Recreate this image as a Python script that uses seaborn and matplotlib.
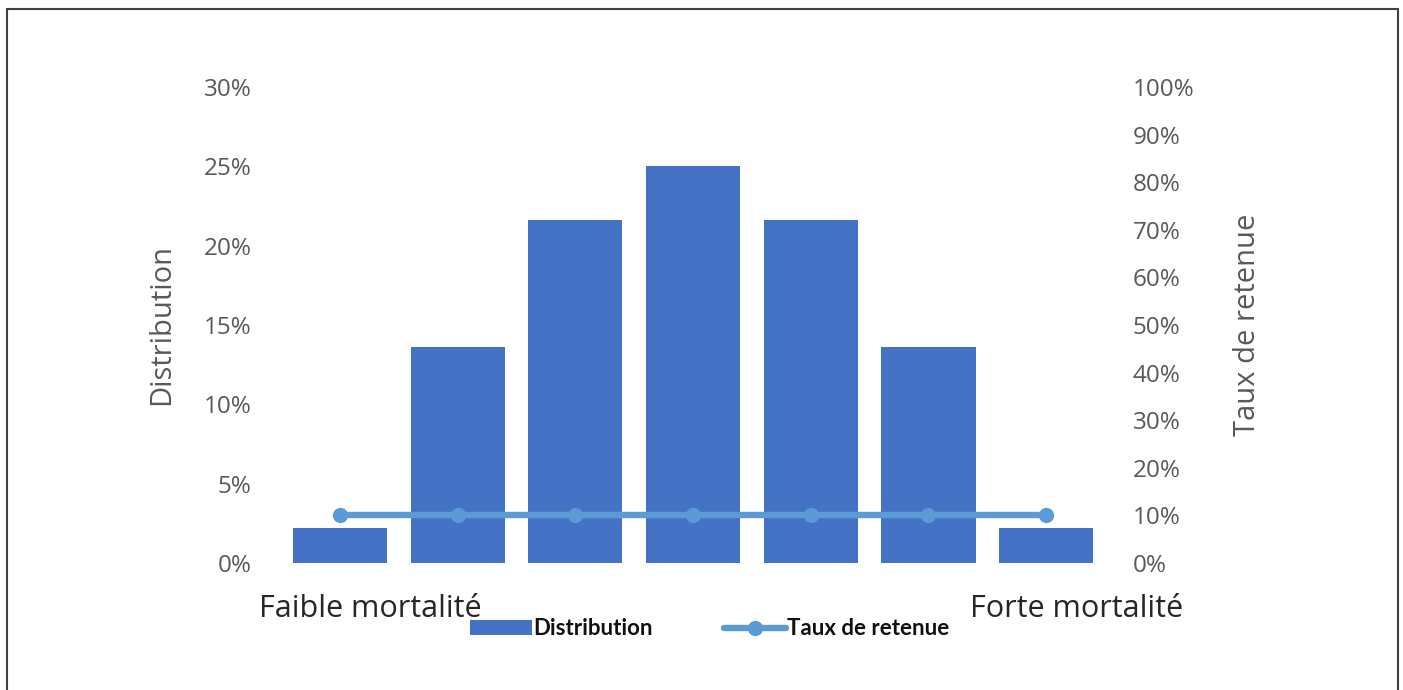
import matplotlib
matplotlib.use("Agg")
import matplotlib.pyplot as plt
import matplotlib.transforms as mtransforms
from matplotlib.lines import Line2D
from matplotlib.ticker import FuncFormatter, MultipleLocator
import seaborn as sns
import pandas as pd

# ---- data ----
classes = ["C1", "C2", "C3", "C4", "C5", "C6", "C7"]
tick_labels = ["Faible mortalité", "", "", "", "", "", "Forte mortalité"]
distribution = [0.022, 0.136, 0.216, 0.250, 0.216, 0.136, 0.022]
taux_retenue = [0.10, 0.10, 0.10, 0.10, 0.10, 0.10, 0.10]

bar_color = "#4472C4"
line_color = "#5B9BD5"
tick_color = "#595959"

sns.set_theme(style="white")
plt.rcParams["font.family"] = ["Open Sans", "DejaVu Sans"]

df = pd.DataFrame({"classe": classes, "distribution": distribution,
                   "taux": taux_retenue, "pos": range(len(classes))})

fig = plt.figure(figsize=(14.03, 6.90), dpi=100)
ax = fig.add_axes([0.2003, 0.1841, 0.5873, 0.6898])

sns.barplot(data=df, x="classe", y="distribution", color=bar_color,
            saturation=1, width=0.8, linewidth=0, ax=ax, label="Distribution")
ax.set_ylim(0, 0.30)
ax.yaxis.set_major_locator(MultipleLocator(0.05))
ax.yaxis.set_major_formatter(FuncFormatter(lambda v, p: f"{v*100:.0f}%"))

ax2 = ax.twinx()
sns.lineplot(data=df, x="pos", y="taux", color=line_color, linewidth=4.6,
             marker="o", markersize=11, markeredgewidth=0, ax=ax2,
             label="Taux de retenue")
ax2.set_ylim(0, 1.0)
ax2.yaxis.set_major_locator(MultipleLocator(0.10))
ax2.yaxis.set_major_formatter(FuncFormatter(lambda v, p: f"{v*100:.0f}%"))
ax.set_xlim(-0.5, len(classes) - 0.5)

for a in (ax, ax2):
    for s in a.spines.values():
        s.set_visible(False)
    a.grid(False)

ax.set_xticks(range(len(classes)))
ax.set_xticklabels(tick_labels, fontsize=22, color="#262626")
ax.tick_params(axis="x", length=0, pad=22)
offset = mtransforms.ScaledTranslation(0.30, 0, fig.dpi_scale_trans)
for lab in ax.get_xticklabels():
    lab.set_transform(lab.get_transform() + offset)

ax.tick_params(axis="y", length=0, pad=21, labelsize=17.5, labelcolor=tick_color)
ax2.tick_params(axis="y", length=0, pad=20, labelsize=17.5, labelcolor=tick_color)

ax.set_xlabel("")
ax.set_ylabel("Distribution", fontsize=21, color=tick_color)
ax2.set_ylabel("Taux de retenue", fontsize=21, color=tick_color)
ax.yaxis.set_label_coords(-0.1274, 0.5)
ax2.yaxis.set_label_coords(1.155, 0.5)

h1, l1 = ax.get_legend_handles_labels()
h2, l2 = ax2.get_legend_handles_labels()
for a in (ax, ax2):
    if a.get_legend() is not None:
        a.get_legend().remove()

leg = fig.legend(h1 + h2, l1 + l2, loc="center", bbox_to_anchor=(0.5057, 0.0885),
                 ncol=2, frameon=False, handlelength=2.8, handletextpad=0.05,
                 columnspacing=3.2,
                 prop={"family": ["Lato", "DejaVu Sans"],
                       "weight": "bold", "size": 16})
for t in leg.get_texts():
    t.set_color("#111111")

# outer frame (left, top, right)
W, H = 1403, 690
frame_color = "#404040"
fig.add_artist(Line2D([7 / W, 7 / W], [0, 1 - 9 / H], transform=fig.transFigure,
                      color=frame_color, linewidth=1.5))
fig.add_artist(Line2D([7 / W, 1398 / W], [1 - 9 / H, 1 - 9 / H],
                      transform=fig.transFigure, color=frame_color, linewidth=1.5))
fig.add_artist(Line2D([1398 / W, 1398 / W], [0, 1 - 9 / H], transform=fig.transFigure,
                      color=frame_color, linewidth=1.5))

fig.savefig("out.png", dpi=100, facecolor="white")
